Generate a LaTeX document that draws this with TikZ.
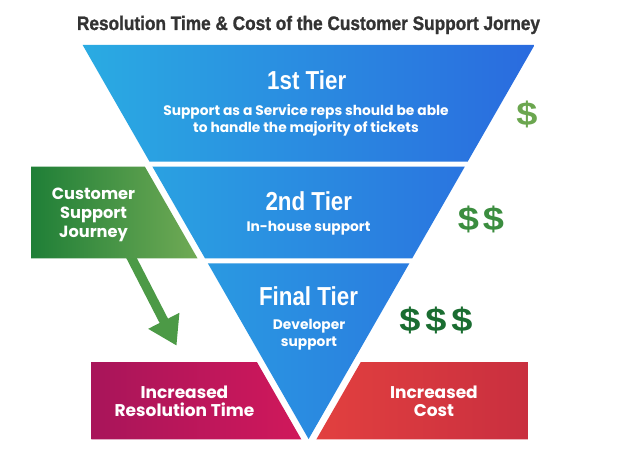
\documentclass[tikz,border=0pt]{standalone}
\usepackage{fontspec}
\usepackage{graphicx}
\setmainfont{Liberation Sans}
\newfontfamily\pop{Poppins}
\newfontfamily\titlefont{Liberation Sans}[BoldFeatures={FakeBold=1.2}]
\usetikzlibrary{arrows.meta}
\definecolor{titlec}{HTML}{333333}
\definecolor{tierL}{HTML}{2AABE2}
\definecolor{tierR}{HTML}{2A6BDF}
\definecolor{grnL}{HTML}{1F7F37}
\definecolor{grnR}{HTML}{70AA55}
\definecolor{arrc}{HTML}{4C9A46}
\definecolor{magL}{HTML}{A8155A}
\definecolor{magR}{HTML}{D0185B}
\definecolor{redL}{HTML}{E2403F}
\definecolor{redR}{HTML}{C92F3F}
\definecolor{dolA}{HTML}{6BA64F}
\definecolor{dolB}{HTML}{3B8D3F}
\definecolor{dolC}{HTML}{1A6D31}
\tikzset{
  every node/.style={inner sep=0pt, outer sep=0pt},
  head/.style={anchor=base, text=white, font=\fontsize{26}{26}\selectfont\bfseries},
  body/.style={anchor=base, text=white, font=\pop\bfseries\fontsize{13.8}{13.8}\selectfont},
  boxtxt/.style={anchor=base, text=white, font=\pop\bfseries\fontsize{16.2}{16.2}\selectfont},
  bigtxt/.style={anchor=base, text=white, font=\pop\bfseries\fontsize{17}{17}\selectfont},
  dollar/.style={font=\fontsize{33}{33}\selectfont\bfseries}
}
\begin{document}
\begin{tikzpicture}[x=1pt,y=-1pt]
\useasboundingbox (0,0) rectangle (617,452);
\fill[white] (0,0) rectangle (617,452);

% title
\node[anchor=base, text=titlec] (title) at (308.5,30)
  {\resizebox{463pt}{\height}{\titlefont\fontsize{19.5}{20}\selectfont\bfseries Resolution Time \& Cost of the Customer Support Jorney}};

% funnel tiers with one horizontal gradient
\begin{scope}
\clip (82.64,45) -- (534.56,45) -- (467.63,161.7) -- (149.57,161.7) -- cycle
      (152.44,166.7) -- (464.76,166.7) -- (412.23,258.3) -- (204.97,258.3) -- cycle
      (207.84,263.3) -- (409.36,263.3) -- (308.6,439) -- cycle;
\shade[left color=tierL, right color=tierR] (82.64,45) rectangle (534.56,439);
\end{scope}

% arrow
\coordinate (arrS) at (127.5,250.2);
\coordinate (arrT) at (176.6,345.7);
\draw[arrc, line width=9.4pt, -{Triangle[length=28pt,width=33pt]}] (arrS) -- (arrT);

% green box
\shade[left color=grnL, right color=grnR] (31,166.7) -- (144.9,166.7) -- (197.5,258.3) -- (31,258.3) -- cycle;
% magenta box
\shade[left color=magL, right color=magR] (91.3,362) -- (256.9,362) -- (301.3,439.3) -- (91.3,439.3) -- cycle;
% red box
\shade[left color=redL, right color=redR] (360.8,362) -- (527.8,362) -- (527.8,439.3) -- (316.4,439.3) -- cycle;

% tier texts
\node[head] (h1) at (306.7,89.3) {\scalebox{0.86}[1]{1st Tier}};
\node[body] (b1a) at (306,115) {Support as a Service reps should be able};
\node[body] (b1b) at (306,132.3) {to handle the majority of tickets};
\node[head] (h2) at (308.8,210) {\scalebox{0.86}[1]{2nd Tier}};
\node[body] (b2) at (308.5,231.7) {In-house support};
\node[head] (h3) at (308.5,305.7) {\scalebox{0.86}[1]{Final Tier}};
\node[body] (b3a) at (309,329) {Developer};
\node[body] (b3b) at (309,346.5) {support};

% green box text
\node[boxtxt] (g1) at (93.5,199) {Customer};
\node[boxtxt] (g2) at (93.5,218.3) {Support};
\node[boxtxt] (g3) at (93.5,237) {Journey};

% bottom boxes text
\node[bigtxt] (m1) at (184.5,398.3) {Increased};
\node[bigtxt] (m2) at (184.5,416.7) {Resolution Time};
\node[bigtxt] (r1) at (434,398.3) {Increased};
\node[bigtxt] (r2) at (434,416.7) {Cost};

% dollars
\node[dollar, text=dolA] (d1) at (527,114.5) {\scalebox{1.15}[1]{\$}};
\node[dollar, text=dolB] (d2a) at (468.5,219) {\scalebox{1.15}[1]{\$}};
\node[dollar, text=dolB] (d2b) at (493.5,219) {\scalebox{1.15}[1]{\$}};
\node[dollar, text=dolC] (d3a) at (410,320.5) {\scalebox{1.15}[1]{\$}};
\node[dollar, text=dolC] (d3b) at (436,320.5) {\scalebox{1.15}[1]{\$}};
\node[dollar, text=dolC] (d3c) at (462,320.5) {\scalebox{1.15}[1]{\$}};
\end{tikzpicture}
\end{document}
